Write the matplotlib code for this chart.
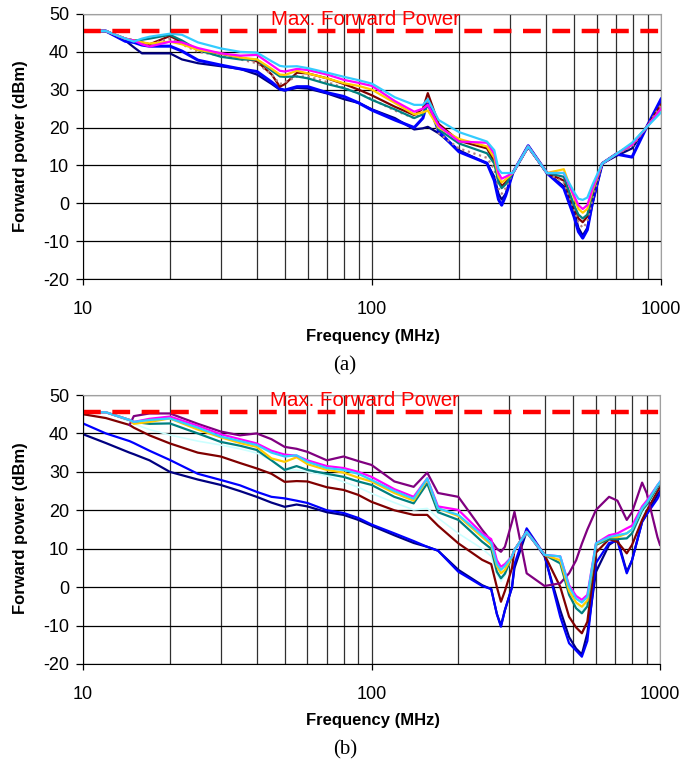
import numpy as np
import matplotlib.pyplot as plt
from matplotlib.ticker import FixedLocator, NullFormatter

plt.rcParams['font.family'] = ['Liberation Sans', 'DejaVu Sans']
plt.rcParams['axes.unicode_minus'] = False

# ---------------- panel (a) data ----------------
freq_a = [11.5, 12, 14, 15, 16, 17, 20, 22, 25, 30, 35, 40, 45, 48, 50, 55, 60, 70, 80, 90,
          100, 120, 140, 150, 156, 170, 200, 250, 265, 274, 281, 290, 307, 347, 403, 461,
          500, 518, 536, 556, 580, 626, 700, 794, 890, 1000]

a_navy = [45.5, 45.5, 43, 41.2, 39.6, 39.6, 39.6, 38, 37, 36.2, 35.5, 34, 31.5, 30, 29.8, 30.5, 30.3, 29, 27.5, 26.5,
          24.8, 22.5, 19.5, 19.8, 20.2, 18.5, 14, 10.5, 7, 2.5, 1, 2.5, 8, 14.8, 8, 4.5,
          -2, -6.5, -8.5, -6.5, 0, 10.5, 12.5, 14.5, 20, 27]
a_blue = [45.5, 45.5, 42.8, 42.5, 41.8, 41.5, 41.5, 40.2, 37.8, 36.5, 35.5, 34.8, 32, 30.2, 29.9, 30.8, 30.8, 29.2, 28.2, 26.5,
          24.6, 22, 20, 22.5, 27.2, 19, 13.6, 10.6, 6, 1, -0.5, 2, 8, 15.2, 8, 4,
          -3.5, -7.5, -9.2, -7, 0.5, 10.5, 13, 12.2, 20, 27.5]
a_maroon = [45.5, 45.5, 43.5, 43, 42.5, 42, 44.2, 42.5, 40.5, 39.5, 38.5, 37.5, 34, 30.8, 31.5, 34.5, 34.3, 33, 31.5, 30,
            28.5, 25.5, 23.3, 25, 29.1, 21, 16.5, 14.5, 11, 6.5, 4.5, 5.5, 8, 15, 8, 6,
            -1, -4, -5, -3.5, 2.5, 10.5, 13, 15.5, 20, 26]
a_rosy = [45.5, 45.5, 43.5, 43, 42.5, 42, 43.5, 42, 40, 39, 38, 37, 34, 31.5, 32, 33.5, 33.5, 32, 30.5, 29,
          27.5, 24.5, 22.5, 24, 27, 18.5, 14.5, 12, 9, 4, 2.5, 4, 8, 15, 8, 5.5,
          -1.5, -5, -6.5, -5, 1.5, 10.5, 13, 15, 20, 26]
a_teal = [45.5, 45.5, 43.5, 43, 43.2, 43.5, 44.5, 43, 40.5, 38.7, 38, 37.9, 35, 33.5, 33.4, 33.5, 33, 31.5, 30.4, 29,
          27.3, 24.8, 22.5, 23.5, 26, 19.5, 15.8, 13.2, 10.5, 5.5, 4, 5, 8, 15, 8, 7,
          -0.5, -3, -4, -3, 3, 10.5, 13, 15.5, 20, 25]
a_gold = [45.5, 45.5, 43.5, 43, 42.5, 42.2, 42.7, 42, 40.5, 39.6, 38.5, 38, 35.5, 34, 33.9, 35, 34.3, 33, 31.7, 31,
          30, 26.5, 23.5, 24, 24.5, 20, 17, 15, 12, 7, 5.5, 6.3, 8, 15, 8, 9,
          1.5, -1.5, -2.5, -1.5, 3.5, 10.5, 13, 15.5, 20, 25]
a_magenta = [45.5, 45.5, 43.5, 43, 42, 41.4, 42.7, 42.5, 41, 39.6, 39, 39.2, 36.5, 35, 34.8, 35.5, 35.2, 34, 32.6, 31.8,
             31, 27, 24.2, 25, 26, 20.5, 16.3, 16, 13, 8, 6.5, 7, 8, 15, 8, 8,
             2, -0.5, -1.5, -0.5, 4, 10.5, 13, 15.5, 20, 25]
a_cyan = [45.5, 45.5, 43.5, 42.7, 43.5, 44, 44.8, 44.5, 42.5, 40.9, 40, 39.8, 37.5, 36.3, 36.1, 36.2, 35.7, 34.5, 33.4, 32.5,
          31.6, 28, 26, 26, 27.5, 22, 18.8, 16.3, 14, 9, 8, 8, 8, 15, 8, 8,
          3, 1.2, 0.9, 1.5, 5, 10.5, 13, 16, 20, 24]

# ---------------- panel (b) data ----------------
freq_b = [10, 12, 14.5, 15, 17, 20, 25, 30, 35, 40, 45, 50, 55, 60, 70, 80, 90, 100, 120, 140,
          156, 170, 200, 242, 260, 272, 281, 290, 307, 313, 345, 398, 451, 484, 512, 536,
          560, 600, 666, 712, 767, 800, 867, 900, 980, 1000]

b_navy = [39.8, 37.5, 35, 34.6, 33, 30, 28, 26.6, 25, 23.5, 22, 20.9, 21.5, 21, 19.5, 18.8, 17.5, 16, 13.5, 11.5,
          10.5, 9.5, 4.5, 0.5, -0.5, -7, -10, -6, 0, 5, 14.5, 8, -6, -13, -16, -17.5,
          -12, 4, 11, 12.5, 4, 7, 17, 19, 24, 25]
b_blue = [42.6, 40, 38, 37.5, 35.5, 33.1, 29.5, 27.9, 26.5, 24.8, 23.5, 23.1, 22.5, 21.9, 20, 19.3, 18, 16.3, 14, 12,
          10.5, 9.5, 4, 0.3, -0.5, -7, -10.3, -6, 0, 6, 15.3, 8.4, -7.7, -14.6, -16.5, -18.1,
          -14, 6.3, 11.5, 12, 3.6, 7, 17, 19, 23, 24.4]
b_maroon = [45, 44, 42.2, 41.5, 39.5, 37.4, 35, 34, 32.3, 30.9, 29.5, 27.4, 27.6, 27.5, 26, 25.3, 24, 22.2, 20, 18.8,
            18.8, 16, 11.4, 7.1, 6, 0, -3.8, -1, 5, 9.7, 14.5, 8.4, 0.1, -7.7, -10.5, -12,
            -9, 9, 12.5, 11.8, 8.8, 11, 17.5, 20, 25, 26]
b_lightcyan = [45.5, 45.5, 43, 42.5, 41, 39.6, 38, 37, 36, 34.9, 33, 30.5, 30.5, 30, 29, 27.4, 26, 24.4, 22, 20.1,
               20.5, 18, 14, 10, 8, 3.5, 1.5, 3, 8, 9.7, 14, 8.4, 6, -1, -4.5, -6,
               -4, 11, 12.5, 12.5, 12.5, 14, 19, 21, 26, 27]
b_teal = [45.5, 45.5, 43.5, 43, 42.5, 42.6, 40, 37.8, 36.8, 35.7, 33, 30.5, 31.5, 30.5, 29.5, 28.7, 27.5, 26.6, 23.5, 21.8,
          27, 19.5, 17.5, 11.8, 10, 4, 2.3, 3.5, 8, 9.7, 14.2, 8.4, 6.2, -2, -5.5, -6.8,
          -5, 11, 12.5, 12.5, 12.7, 14, 20, 21.5, 26, 27]
b_gold = [45.5, 45.5, 43.5, 42.5, 43, 43.9, 41, 39, 37.5, 36.5, 33.5, 32.6, 33.8, 32, 30.5, 29.8, 28.5, 27.5, 24.5, 22.5,
          28, 20.5, 18.5, 13, 11, 5.5, 3.6, 4.5, 8, 9.7, 14.4, 8.4, 7, -1, -4, -5.1,
          -3.5, 11.2, 13, 13, 14, 15, 20.5, 22, 26.5, 27]
b_cyan = [45.5, 45.5, 43.5, 43, 43.5, 43.9, 41.5, 39.2, 38, 37, 35, 34, 34.3, 32.6, 31, 30.5, 29.5, 27.9, 25, 23,
          28.3, 20.5, 18.8, 13.5, 11.5, 6, 4.5, 5.5, 8, 9.7, 14.4, 8.4, 8, 0.1, -3, -4,
          -2.5, 11.4, 13, 13.5, 14, 15, 20.5, 22, 26.5, 27.4]
b_magenta = [45.5, 45.5, 43.5, 43, 43.8, 44.4, 42, 39.8, 38.5, 37.4, 35.5, 34.5, 34.2, 33, 31.5, 31, 30, 28.7, 25.5, 23.5,
             28.3, 21, 20.1, 14, 12.5, 7, 5.3, 6, 8, 9.7, 14.4, 8.4, 8, 0.5, -2.3, -3.3,
             -2, 11.4, 13.5, 14, 15.3, 16, 21, 22.5, 26.5, 27.4]
b_purple = [np.nan, np.nan, 42.2, 44.5, 45.2, 45.2, 42.5, 40.5, 39.5, 40, 38.5, 36.5, 36, 35.2, 33, 34, 32.8, 31.8, 27.5, 26.1,
            29.8, 24.5, 23.5, 14.9, 12, 10, 9.2, 10.5, 17, 19.6, 3.6, 0.3, 1, 3.6, 7, 11.3,
            15, 20.1, 23.5, 22.5, 17.5, 19.5, 27.2, 24.4, 13, 11]

max_power = 45.5

series_a = [(a_navy, '#000080', '-', 1.6), (a_blue, '#0000FF', '-', 2.2),
            (a_maroon, '#800000', '-', 1.6), (a_rosy, '#B08080', ':', 1.6),
            (a_teal, '#008080', '-', 1.6), (a_gold, '#FFCC00', '-', 1.6),
            (a_magenta, '#FF00FF', '-', 1.6), (a_cyan, '#33CCFF', '-', 1.6)]
series_b = [(b_navy, '#000080', '-', 1.6), (b_blue, '#0000FF', '-', 1.6),
            (b_maroon, '#800000', '-', 1.6), (b_lightcyan, '#CCFFFF', '-', 1.2),
            (b_purple, '#800080', '-', 1.6), (b_teal, '#008080', '-', 1.6),
            (b_gold, '#FFCC00', '-', 1.6), (b_magenta, '#FF00FF', '-', 1.6),
            (b_cyan, '#33CCFF', '-', 1.6)]

W, H = 683, 765
fig = plt.figure(figsize=(W / 100, H / 100), dpi=100)


def px_axes(left, top, right, bottom):
    return fig.add_axes([left / W, 1 - bottom / H, (right - left) / W, (bottom - top) / H])


def draw_panel(ax, freqs, series, tick_label_y, xlabel_y, tag, tag_y, ylabel_y):
    for vals, col, ls, lw in series:
        ax.plot(freqs, vals, color=col, linestyle=ls, linewidth=lw)
    ax.plot([10, 1000], [max_power, max_power], color='#FF0000', linewidth=3.2,
            dashes=(4, 2.6))
    ax.text(94.9, 47.2, 'Max. Forward Power', color='#FF0000', fontsize=14.8,
            ha='center', va='baseline')

    ax.set_xscale('log')
    ax.set_xlim(10, 1000)
    ax.set_ylim(-20, 50)
    ax.set_yticks(range(-20, 51, 10))
    ax.xaxis.set_major_locator(FixedLocator([10, 100, 1000]))
    ax.xaxis.set_minor_locator(FixedLocator([20, 30, 40, 50, 60, 70, 80, 90,
                                             200, 300, 400, 500, 600, 700, 800, 900]))
    ax.xaxis.set_minor_formatter(NullFormatter())
    ax.set_xticklabels(['10', '100', '1000'])

    ax.grid(True, which='both', axis='x', color='#303030', linewidth=0.9)
    ax.grid(True, which='major', axis='y', color='black', linewidth=0.9)
    ax.set_axisbelow(True)
    for s in ['top', 'right']:
        ax.spines[s].set_color('#A0A0A0')
    for s in ['left', 'bottom']:
        ax.spines[s].set_color('black')

    bottom_px = (1 - ax.get_position().y0) * H
    ax.tick_params(axis='y', which='major', length=5, width=0.9, pad=5, labelsize=13)
    ax.tick_params(axis='x', which='major', length=4.5, width=0.9,
                   pad=(tick_label_y - 8 - bottom_px - 6) * 0.72, labelsize=13)
    ax.tick_params(axis='x', which='minor', length=0)

    fig.text(373 / W, 1 - xlabel_y / H, 'Frequency (MHz)', fontsize=12, fontweight='bold',
             ha='center', va='center')
    fig.text(21 / W, 1 - ylabel_y / H, 'Forward power (dBm)', fontsize=12, fontweight='bold',
             ha='center', va='center', rotation=90)
    fig.text(345 / W, 1 - tag_y / H, tag, fontsize=15, family='Liberation Serif',
             ha='center', va='center')


ax_a = px_axes(83, 14, 661, 279)
ax_b = px_axes(83, 395, 660, 664)
draw_panel(ax_a, freq_a, series_a, 309, 337, '(a)', 366, 146)
draw_panel(ax_b, freq_b, series_b, 694, 721, '(b)', 750, 528)

fig.savefig('out.png', dpi=100)
